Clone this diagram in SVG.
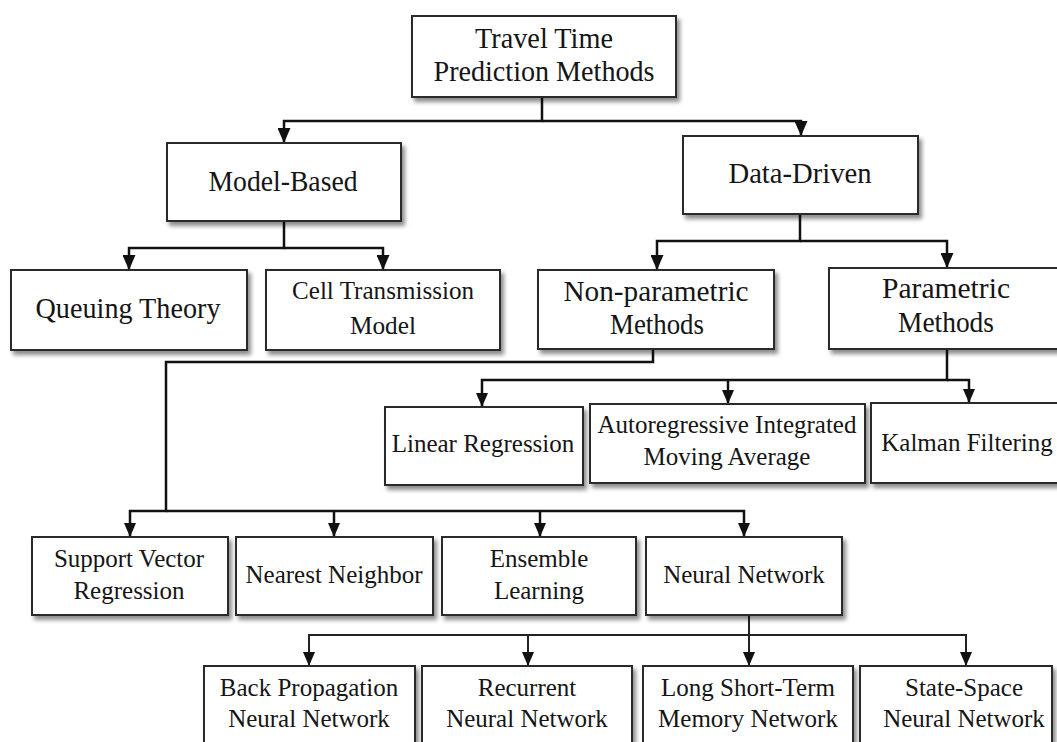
<svg xmlns="http://www.w3.org/2000/svg" width="1057" height="742" viewBox="0 0 1057 742">
  <defs>
    <filter id="shadow" x="-5%" y="-5%" width="115%" height="125%">
      <feDropShadow dx="3" dy="4" stdDeviation="2.2" flood-color="#000" flood-opacity="0.45"/>
    </filter>
    <marker id="arrow" viewBox="0 -6.5 15 13" refX="15" refY="0" markerWidth="15" markerHeight="13" markerUnits="userSpaceOnUse" orient="auto">
      <path d="M0,-6.5 L15,0 L0,6.5 z" fill="#111"/>
    </marker>
    <marker id="arrowSm" viewBox="0 -6 14 12" refX="14" refY="0" markerWidth="14" markerHeight="12" markerUnits="userSpaceOnUse" orient="auto">
      <path d="M0,-6 L14,0 L0,6 z" fill="#111"/>
    </marker>
  </defs>
  <style>
    .box { fill: #fff; stroke: #2a2a2a; stroke-width: 2; filter: url(#shadow); }
    .t1 { font-family: "Liberation Serif", "Times New Roman", serif; font-size: 30px; fill: #151515; text-anchor: middle; }
    .t1s { font-family: "Liberation Serif", "Times New Roman", serif; font-size: 26px; fill: #151515; text-anchor: middle; }
    .t2 { font-family: "Liberation Serif", "Times New Roman", serif; font-size: 25px; fill: #151515; text-anchor: middle; }
    .link { fill: none; stroke: #111; stroke-width: 2.5; }
    .link-sm { fill: none; stroke: #222; stroke-width: 2; }
  </style>

  <rect width="1057" height="742" fill="#fff"/>

  <!-- connectors -->
  <g id="connectors">
    <!-- root -> Model-Based / Data-Driven -->
    <path class="link" d="M542,97 V121 H284 V143" marker-end="url(#arrow)"/>
    <path class="link" d="M542,121 H801 V136" marker-end="url(#arrow)"/>
    <!-- Model-Based -> children -->
    <path class="link" d="M284,221 V248 H129 V270" marker-end="url(#arrow)"/>
    <path class="link" d="M284,248 H383 V270" marker-end="url(#arrow)"/>
    <!-- Data-Driven -> children -->
    <path class="link" d="M800,214 V241 H657 V270" marker-end="url(#arrow)"/>
    <path class="link" d="M800,241 H947 V268" marker-end="url(#arrow)"/>
    <!-- Parametric -> children -->
    <path class="link" d="M947,349 V380 H482 V407" marker-end="url(#arrowSm)"/>
    <path class="link" d="M728,380 V404" marker-end="url(#arrowSm)"/>
    <path class="link" d="M947,380 H969 V403" marker-end="url(#arrowSm)"/>
    <!-- Non-parametric -> children -->
    <path class="link" d="M653,349 V362 H166 V511 H130 V537" marker-end="url(#arrowSm)"/>
    <path class="link" d="M166,511 H744 V537" marker-end="url(#arrowSm)"/>
    <path class="link" d="M334,511 V537" marker-end="url(#arrowSm)"/>
    <path class="link" d="M540,511 V537" marker-end="url(#arrowSm)"/>
    <!-- Neural Network -> children -->
    <path class="link-sm" d="M749,615 V666" marker-end="url(#arrowSm)"/>
    <path class="link-sm" d="M749,635 H309 V666" marker-end="url(#arrowSm)"/>
    <path class="link-sm" d="M528,635 V666" marker-end="url(#arrowSm)"/>
    <path class="link-sm" d="M749,635 H966 V666" marker-end="url(#arrowSm)"/>
  </g>

  <g id="root">
    <rect class="box" x="412" y="16" width="264" height="81"/>
    <text class="t1" x="544" y="48" textLength="138" lengthAdjust="spacingAndGlyphs">Travel Time</text>
    <text class="t1" x="544" y="81" textLength="221" lengthAdjust="spacingAndGlyphs">Prediction Methods</text>
  </g>

  <g id="model-based">
    <rect class="box" x="167" y="143" width="234" height="78"/>
    <text class="t1" x="283" y="191" textLength="149" lengthAdjust="spacingAndGlyphs">Model-Based</text>
  </g>

  <g id="data-driven">
    <rect class="box" x="683" y="136" width="235" height="78"/>
    <text class="t1" x="800" y="183" textLength="143" lengthAdjust="spacingAndGlyphs">Data-Driven</text>
  </g>

  <g id="queuing-theory">
    <rect class="box" x="11" y="270" width="236" height="80"/>
    <text class="t1" x="128" y="318" textLength="185" lengthAdjust="spacingAndGlyphs">Queuing Theory</text>
  </g>

  <g id="cell-transmission">
    <rect class="box" x="266" y="270" width="234" height="80"/>
    <text class="t1s" x="383" y="299" textLength="182" lengthAdjust="spacingAndGlyphs">Cell Transmission</text>
    <text class="t1s" x="383" y="334" textLength="66" lengthAdjust="spacingAndGlyphs">Model</text>
  </g>

  <g id="non-parametric">
    <rect class="box" x="538" y="270" width="236" height="79"/>
    <text class="t1" x="656" y="301" textLength="185" lengthAdjust="spacingAndGlyphs">Non-parametric</text>
    <text class="t1" x="657" y="334" textLength="94" lengthAdjust="spacingAndGlyphs">Methods</text>
  </g>

  <g id="parametric">
    <rect class="box" x="829" y="268" width="236" height="81"/>
    <text class="t1" x="946" y="298" textLength="128" lengthAdjust="spacingAndGlyphs">Parametric</text>
    <text class="t1" x="946" y="332" textLength="96" lengthAdjust="spacingAndGlyphs">Methods</text>
  </g>

  <g id="linear-regression">
    <rect class="box" x="385" y="407" width="198" height="78"/>
    <text class="t2" x="483" y="452">Linear Regression</text>
  </g>

  <g id="arima">
    <rect class="box" x="590" y="404" width="275" height="79"/>
    <text class="t2" x="727" y="433">Autoregressive Integrated</text>
    <text class="t2" x="727" y="465">Moving Average</text>
  </g>

  <g id="kalman-filtering">
    <rect class="box" x="871" y="403" width="196" height="80"/>
    <text class="t2" x="967" y="451">Kalman Filtering</text>
  </g>

  <g id="support-vector-regression">
    <rect class="box" x="32" y="537" width="196" height="78"/>
    <text class="t2" x="129" y="567">Support Vector</text>
    <text class="t2" x="129" y="599">Regression</text>
  </g>

  <g id="nearest-neighbor">
    <rect class="box" x="236" y="537" width="197" height="78"/>
    <text class="t2" x="334" y="583">Nearest Neighbor</text>
  </g>

  <g id="ensemble-learning">
    <rect class="box" x="442" y="537" width="194" height="78"/>
    <text class="t2" x="539" y="567">Ensemble</text>
    <text class="t2" x="539" y="599">Learning</text>
  </g>

  <g id="neural-network">
    <rect class="box" x="646" y="537" width="196" height="78"/>
    <text class="t2" x="744" y="583">Neural Network</text>
  </g>

  <g id="bp-neural-network">
    <rect class="box" x="204" y="666" width="211" height="100"/>
    <text class="t2" x="309" y="696">Back Propagation</text>
    <text class="t2" x="309" y="727">Neural Network</text>
  </g>

  <g id="recurrent-neural-network">
    <rect class="box" x="422" y="666" width="210" height="100"/>
    <text class="t2" x="527" y="696">Recurrent</text>
    <text class="t2" x="527" y="727">Neural Network</text>
  </g>

  <g id="lstm-network">
    <rect class="box" x="643" y="666" width="210" height="100"/>
    <text class="t2" x="748" y="696">Long Short-Term</text>
    <text class="t2" x="748" y="727">Memory Network</text>
  </g>

  <g id="state-space-neural-network">
    <rect class="box" x="860" y="666" width="192" height="100"/>
    <text class="t2" x="964" y="696">State-Space</text>
    <text class="t2" x="964" y="727">Neural Network</text>
  </g>
</svg>
